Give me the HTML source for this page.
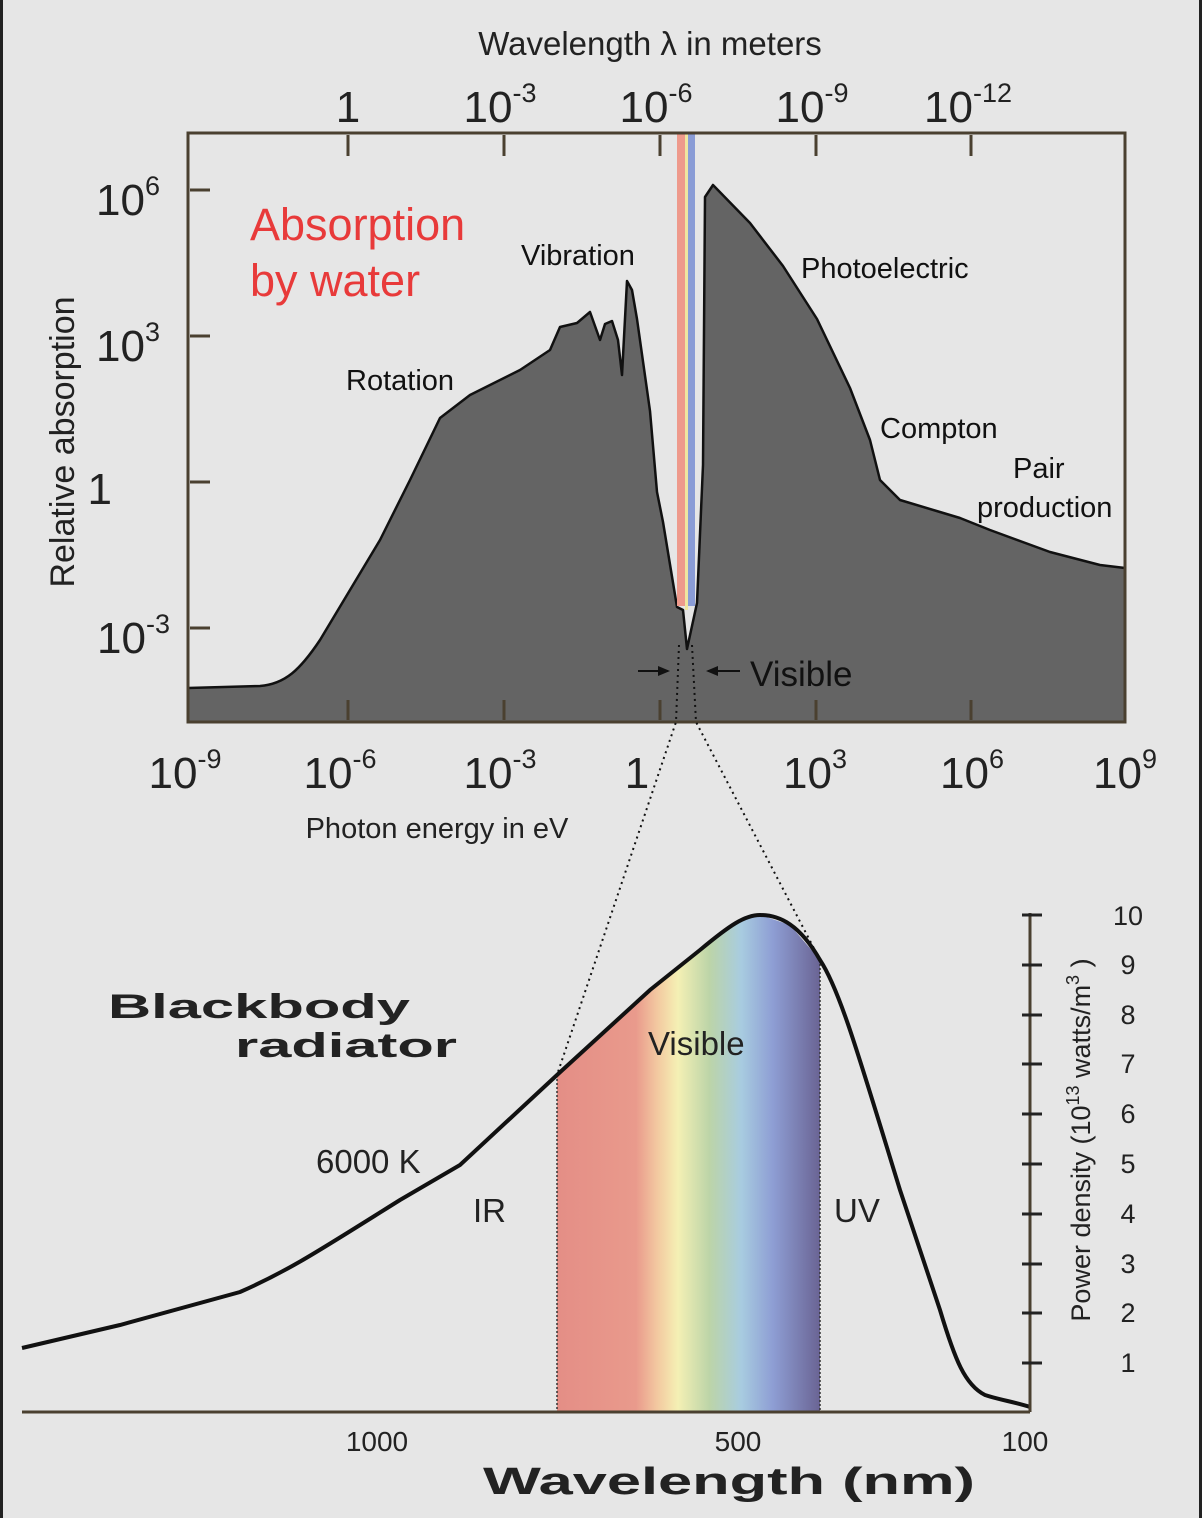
<!DOCTYPE html>
<html><head><style>
html,body{margin:0;padding:0;background:#e6e6e6;}
svg{display:block;font-family:"Liberation Sans",sans-serif;}
</style></head><body>
<svg width="1202" height="1518" viewBox="0 0 1202 1518" xmlns="http://www.w3.org/2000/svg">
<defs>
<linearGradient id="spec" x1="557" x2="820" y1="0" y2="0" gradientUnits="userSpaceOnUse">
<stop offset="0" stop-color="#e48e86"/>
<stop offset="0.3" stop-color="#e99a8c"/>
<stop offset="0.38" stop-color="#f3c8a0"/>
<stop offset="0.46" stop-color="#f4f0b4"/>
<stop offset="0.58" stop-color="#bcd4a8"/>
<stop offset="0.7" stop-color="#a8cce0"/>
<stop offset="0.82" stop-color="#8e9ed4"/>
<stop offset="1" stop-color="#6a6494"/>
</linearGradient>
</defs>
<rect width="1202" height="1518" fill="#e6e6e6"/>
<rect x="0" y="0" width="3" height="1518" fill="#222"/>
<rect x="1199" y="0" width="3" height="1518" fill="#222"/>

<text x="650" y="55" font-size="33" text-anchor="middle" fill="#222">Wavelength λ in meters</text>
<g font-size="44" fill="#222" text-anchor="middle">
<text x="348" y="122">1</text>
<text x="500" y="122">10<tspan font-size="27" dy="-20">-3</tspan></text>
<text x="656" y="122">10<tspan font-size="27" dy="-20">-6</tspan></text>
<text x="812" y="122">10<tspan font-size="27" dy="-20">-9</tspan></text>
<text x="968" y="122">10<tspan font-size="27" dy="-20">-12</tspan></text>
</g>
<path d="M188,688 L260,686 C285,684 300,670 320,640 L380,540 L410,480 L440,418 L470,395 L520,370 L550,350 L560,327 L577,323 L590,312 L600,340 L605,324 L612,321 L618,340 L622,375 L627,281 L632,290 L637,319 L650,411 L657,492 L663,522 L677,607 L683,610 L687,649 L697,603 L703,465 L705,197 L713,185 L750,223 L783,266 L817,319 L850,388 L870,440 L880,480 L900,500 L940,512 L960,518 L990,530 L1050,552 L1100,565 L1125,568 L1125,722 L188,722 Z" fill="#646464" stroke="#111" stroke-width="2.5" stroke-linejoin="round"/>
<rect x="677" y="134" width="8" height="472" fill="#ee9a8c"/>
<rect x="685" y="134" width="3" height="476" fill="#efe6a0"/>
<rect x="688" y="134" width="7" height="472" fill="#8a9cd6"/>
<rect x="188" y="133" width="937" height="589" fill="none" stroke="#4a4030" stroke-width="3"/>
<g stroke="#4a4030" stroke-width="3">
<line x1="348" y1="135" x2="348" y2="156"/><line x1="504" y1="135" x2="504" y2="156"/><line x1="660" y1="135" x2="660" y2="156"/><line x1="816" y1="135" x2="816" y2="156"/><line x1="971" y1="135" x2="971" y2="156"/>
<line x1="190" y1="190" x2="210" y2="190"/><line x1="190" y1="336" x2="210" y2="336"/><line x1="190" y1="482" x2="210" y2="482"/><line x1="190" y1="628" x2="210" y2="628"/>
<line x1="348" y1="720" x2="348" y2="700"/><line x1="504" y1="720" x2="504" y2="700"/><line x1="660" y1="720" x2="660" y2="700"/><line x1="816" y1="720" x2="816" y2="700"/><line x1="971" y1="720" x2="971" y2="700"/>
</g>
<g font-size="44" fill="#222" text-anchor="end">
<text x="160" y="215">10<tspan font-size="27" dy="-20">6</tspan></text>
<text x="160" y="361">10<tspan font-size="27" dy="-20">3</tspan></text>
<text x="112" y="504">1</text>
<text x="170" y="653">10<tspan font-size="27" dy="-20">-3</tspan></text>
</g>
<text transform="translate(74,442) rotate(-90)" font-size="34" text-anchor="middle" fill="#222">Relative  absorption</text>
<g font-size="44" fill="#222" text-anchor="middle">
<text x="185" y="788">10<tspan font-size="27" dy="-20">-9</tspan></text>
<text x="340" y="788">10<tspan font-size="27" dy="-20">-6</tspan></text>
<text x="500" y="788">10<tspan font-size="27" dy="-20">-3</tspan></text>
<text x="637" y="788">1</text>
<text x="815" y="788">10<tspan font-size="27" dy="-20">3</tspan></text>
<text x="972" y="788">10<tspan font-size="27" dy="-20">6</tspan></text>
<text x="1125" y="788">10<tspan font-size="27" dy="-20">9</tspan></text>
</g>
<text x="437" y="838" font-size="29" text-anchor="middle" fill="#222">Photon energy in eV</text>
<text x="250" y="240" font-size="45" fill="#e83a3a">Absorption</text>
<text x="250" y="296" font-size="45" fill="#e83a3a">by water</text>
<g font-size="29" fill="#111">
<text x="521" y="265">Vibration</text>
<text x="346" y="390">Rotation</text>
<text x="801" y="278">Photoelectric</text>
<text x="880" y="438">Compton</text>
<text x="1013" y="478">Pair</text>
<text x="977" y="517">production</text>
</g>
<text x="750" y="686" font-size="35" fill="#111">Visible</text>
<g stroke="#111" stroke-width="2"><line x1="638" y1="671" x2="668" y2="671"/><line x1="708" y1="671" x2="740" y2="671"/></g>
<path d="M670,671 l-12,-5 v10z M706,671 l12,-5 v10z" fill="#111"/>
<g stroke="#111" stroke-width="2" stroke-dasharray="2,4" fill="none">
<path d="M679,645 L676,722 L557,1075"/>
<path d="M692,645 L696,722 L820,960"/>
</g>

<path d="M557,1075 L650,990 L700,950 L740,920 L760,915 L790,925 L820,960 L820,1412 L557,1412 Z" fill="url(#spec)"/>
<g stroke="#333" stroke-width="1.5" stroke-dasharray="2,2"><line x1="557" y1="1075" x2="557" y2="1412"/><line x1="820" y1="960" x2="820" y2="1412"/></g>
<path d="M22,1348 L120,1325 L240,1292 C290,1270 320,1250 400,1200 L460,1165 L557,1075 L650,990 L700,950 C730,925 745,915 760,915 C780,915 800,925 820,960 C840,990 860,1060 900,1190 L940,1310 C955,1360 965,1385 985,1395 C1000,1400 1015,1402 1030,1407" fill="none" stroke="#111" stroke-width="4"/>
<line x1="22" y1="1412" x2="1030" y2="1412" stroke="#4a4030" stroke-width="3"/>
<line x1="1030" y1="913" x2="1030" y2="1412" stroke="#4a4030" stroke-width="3"/>
<g stroke="#222" stroke-width="3">
<line x1="1022" y1="915" x2="1042" y2="915"/><line x1="1022" y1="965" x2="1042" y2="965"/><line x1="1022" y1="1015" x2="1042" y2="1015"/><line x1="1022" y1="1064" x2="1042" y2="1064"/><line x1="1022" y1="1114" x2="1042" y2="1114"/><line x1="1022" y1="1164" x2="1042" y2="1164"/><line x1="1022" y1="1214" x2="1042" y2="1214"/><line x1="1022" y1="1264" x2="1042" y2="1264"/><line x1="1022" y1="1313" x2="1042" y2="1313"/><line x1="1022" y1="1363" x2="1042" y2="1363"/>
</g>
<g font-size="27" fill="#222" text-anchor="middle">
<text x="1128" y="925">10</text><text x="1128" y="974">9</text><text x="1128" y="1024">8</text><text x="1128" y="1073">7</text><text x="1128" y="1123">6</text><text x="1128" y="1173">5</text><text x="1128" y="1223">4</text><text x="1128" y="1273">3</text><text x="1128" y="1322">2</text><text x="1128" y="1372">1</text>
</g>
<text transform="translate(1090,1140) rotate(-90)" font-size="27" text-anchor="middle" fill="#222">Power density (10<tspan font-size="18" dy="-11">13</tspan><tspan dy="11"> watts/m</tspan><tspan font-size="18" dy="-11">3</tspan><tspan dy="11"> )</tspan></text>
<g font-size="28" fill="#222" text-anchor="middle">
<text x="377" y="1451">1000</text><text x="738" y="1451">500</text><text x="1025" y="1451">100</text>
</g>
<text x="483" y="1494" font-size="38" font-weight="bold" fill="#222" textLength="492" lengthAdjust="spacingAndGlyphs">Wavelength (nm)</text>
<text x="108" y="1018" font-size="34" font-weight="bold" fill="#222" textLength="302" lengthAdjust="spacingAndGlyphs">Blackbody</text>
<text x="235" y="1057" font-size="34" font-weight="bold" fill="#222" textLength="222" lengthAdjust="spacingAndGlyphs">radiator</text>
<g font-size="33" fill="#222">
<text x="316" y="1173">6000 K</text>
<text x="473" y="1222">IR</text>
<text x="648" y="1055">Visible</text>
<text x="834" y="1222">UV</text>
</g>
</svg>
</body></html>
